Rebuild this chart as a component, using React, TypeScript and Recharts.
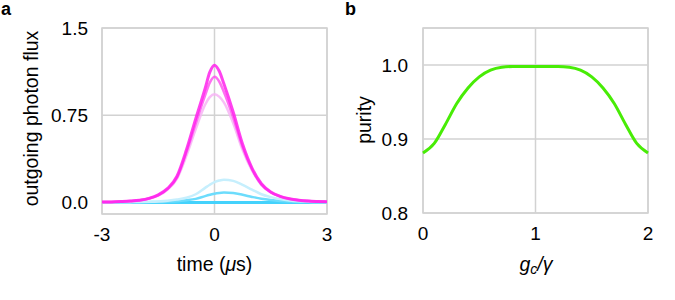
import React from "react";
import { LineChart, Line, XAxis, YAxis, CartesianGrid, ReferenceArea } from "recharts";

// ---- Panel a data ----
const timeValues = [-3, -2.75, -2.5, -2.25, -2, -1.75, -1.5, -1.25, -1, -0.75, -0.5, -0.25, -0.125, 0, 0.125, 0.25, 0.5, 0.75, 1, 1.25, 1.5, 1.75, 2, 2.25, 2.5, 2.75, 3];
const fluxMagenta1 = [0.003, 0.004, 0.007, 0.011, 0.018, 0.034, 0.064, 0.12, 0.225, 0.45, 0.72, 0.98, 1.12, 1.18, 1.13, 1.02, 0.775, 0.5, 0.295, 0.16, 0.089, 0.052, 0.031, 0.019, 0.012, 0.008, 0.005];
const fluxMagenta2 = [0.003, 0.004, 0.007, 0.011, 0.018, 0.033, 0.062, 0.116, 0.215, 0.43, 0.68, 0.92, 1.03, 1.08, 1.04, 0.95, 0.73, 0.475, 0.285, 0.155, 0.087, 0.051, 0.03, 0.019, 0.012, 0.008, 0.005];
const fluxMagenta3 = [0.003, 0.004, 0.006, 0.01, 0.017, 0.031, 0.058, 0.11, 0.205, 0.4, 0.63, 0.84, 0.905, 0.93, 0.91, 0.86, 0.68, 0.45, 0.275, 0.15, 0.085, 0.05, 0.029, 0.018, 0.011, 0.007, 0.005];
const fluxCyanLight = [0, 0, 0.001, 0.002, 0.003, 0.005, 0.008, 0.014, 0.024, 0.04, 0.07, 0.125, 0.152, 0.175, 0.188, 0.195, 0.185, 0.15, 0.11, 0.07, 0.045, 0.028, 0.017, 0.01, 0.006, 0.003, 0.002];
const fluxCyanMid = [0, 0, 0, 0, 0.001, 0.002, 0.003, 0.006, 0.01, 0.018, 0.03, 0.054, 0.065, 0.075, 0.081, 0.084, 0.08, 0.065, 0.047, 0.031, 0.02, 0.012, 0.007, 0.004, 0.003, 0.001, 0.001];
const fluxCyanFlat = [0, 0, 0, 0, 0, 0, 0, 0, 0, 0, 0, 0, 0, 0, 0, 0, 0, 0, 0, 0, 0, 0, 0, 0, 0, 0, 0];
const timeTicks = [-3, 0, 3];
const fluxTicks = [0, 0.75, 1.5];

// ---- Panel b data ----
const couplingValues = [0, 0.1, 0.2, 0.3, 0.4, 0.5, 0.6, 0.7, 0.8, 0.9, 1, 1.1, 1.2, 1.3, 1.4, 1.5, 1.6, 1.7, 1.8, 1.9, 2];
const purityValues = [0.881, 0.894, 0.92, 0.948, 0.969, 0.984, 0.993, 0.997, 0.998, 0.998, 0.998, 0.998, 0.998, 0.997, 0.993, 0.984, 0.969, 0.948, 0.92, 0.894, 0.881];
const couplingTicks = [0, 1, 2];
const purityTicks = [0.8, 0.9, 1.0];

const fluxRows = timeValues.map((t, i) => ({
  t,
  m1: fluxMagenta1[i],
  m2: fluxMagenta2[i],
  m3: fluxMagenta3[i],
  cl: fluxCyanLight[i],
  cm: fluxCyanMid[i],
  cf: fluxCyanFlat[i],
}));
const purityRows = couplingValues.map((g, i) => ({ g, p: purityValues[i] }));

const FONT = "'Liberation Sans', Arial, Helvetica, sans-serif";
const GRID = "#d2d2d2";
const tickStyle = { fontSize: 19, fill: "#000", fontFamily: FONT };

export default function App() {
  return (
    <div style={{ position: "absolute", left: 0, top: 0, width: 675, height: 300, background: "#fff", fontFamily: FONT }}>
      <div style={{ position: "absolute", left: 0, top: 0 }}>
        <LineChart width={340} height={300} data={fluxRows} margin={{ top: 28, right: 13, bottom: 56, left: 0 }}>
          <CartesianGrid stroke={GRID} strokeWidth={1.5} />
          <XAxis
            dataKey="t"
            type="number"
            domain={[-3, 3]}
            ticks={timeTicks}
            axisLine={false}
            tickLine={false}
            tickSize={0}
            tickMargin={14}
            height={30}
            tick={tickStyle}
            tickFormatter={(v: number) => String(v)}
          />
          <YAxis
            type="number"
            domain={[-0.1, 1.5]}
            ticks={fluxTicks}
            axisLine={false}
            tickLine={false}
            tickSize={0}
            tickMargin={14}
            width={102}
            tick={tickStyle}
            tickFormatter={(v: number) => (v === 0.75 ? "0.75" : v.toFixed(1))}
          />
          <ReferenceArea x1={-3} x2={3} y1={-0.1} y2={1.5} fill="none" stroke={GRID} strokeWidth={1.5} ifOverflow="visible" />
          <Line dataKey="cf" type="monotone" stroke="#44d2fc" strokeWidth={3} dot={false} isAnimationActive={false} />
          <Line dataKey="cm" type="monotone" stroke="#6cdcfc" strokeWidth={2.5} dot={false} isAnimationActive={false} />
          <Line dataKey="cl" type="monotone" stroke="#c6effd" strokeWidth={2.5} dot={false} isAnimationActive={false} />
          <Line dataKey="m3" type="monotone" stroke="#f7b4f4" strokeWidth={2.5} strokeOpacity={0.85} dot={false} isAnimationActive={false} />
          <Line dataKey="m2" type="monotone" stroke="#ff4cef" strokeWidth={2.5} strokeOpacity={0.8} dot={false} isAnimationActive={false} />
          <Line dataKey="m1" type="monotone" stroke="#ff22ec" strokeWidth={3} strokeOpacity={0.85} dot={false} isAnimationActive={false} />
        </LineChart>
      </div>
      <div style={{ position: "absolute", left: 340, top: 0 }}>
        <LineChart width={335} height={300} data={purityRows} margin={{ top: 28, right: 27, bottom: 57, left: 0 }}>
          <CartesianGrid stroke={GRID} strokeWidth={1.5} />
          <XAxis
            dataKey="g"
            type="number"
            domain={[0, 2]}
            ticks={couplingTicks}
            axisLine={false}
            tickLine={false}
            tickSize={0}
            tickMargin={14}
            height={30}
            tick={tickStyle}
          />
          <YAxis
            type="number"
            domain={[0.8, 1.05]}
            ticks={purityTicks}
            axisLine={false}
            tickLine={false}
            tickSize={0}
            tickMargin={15}
            width={83}
            tick={tickStyle}
            tickFormatter={(v: number) => v.toFixed(1)}
          />
          <ReferenceArea x1={0} x2={2} y1={0.8} y2={1.05} fill="none" stroke={GRID} strokeWidth={1.5} ifOverflow="visible" />
          <Line dataKey="p" type="monotone" stroke="#48ec06" strokeWidth={3} dot={false} isAnimationActive={false} />
        </LineChart>
      </div>
      <svg width={675} height={300} style={{ position: "absolute", left: 0, top: 0, pointerEvents: "none" }} fontFamily={FONT}>
        <text x={1} y={15} fontSize={18} fontWeight="bold" fill="#000">a</text>
        <text x={345} y={15} fontSize={18} fontWeight="bold" fill="#000">b</text>
        <text x={38} y={118.5} fontSize={19.5} fill="#000" textAnchor="middle" transform="rotate(-90 38 118.5)">outgoing photon flux</text>
        <text x={214.5} y={270.5} fontSize={19.5} fill="#000" textAnchor="middle">
          time (<tspan fontStyle="italic">μ</tspan>s)
        </text>
        <text x={370.5} y={120} fontSize={19.5} fill="#000" textAnchor="middle" transform="rotate(-90 370.5 120)">purity</text>
        <text x={536} y={270.5} fontSize={19.5} fill="#000" textAnchor="middle" fontStyle="italic">
          g<tspan fontSize={14} dy={3}>c</tspan><tspan dy={-3}>/γ</tspan>
        </text>
      </svg>
    </div>
  );
}
